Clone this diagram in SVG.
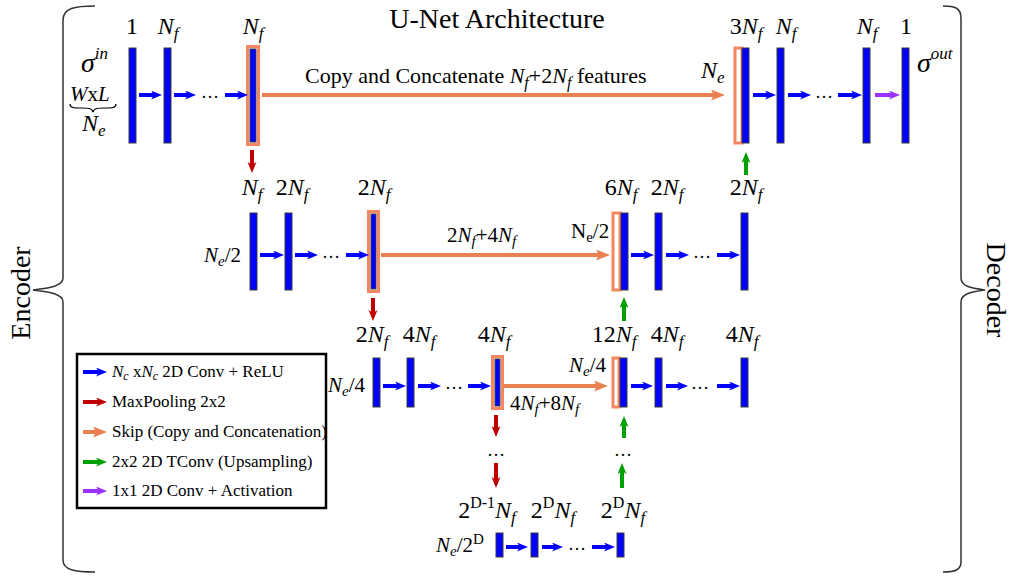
<svg xmlns="http://www.w3.org/2000/svg" width="1011" height="576" viewBox="0 0 1011 576">
<style>
.t{font-family:"Liberation Serif",serif;font-size:24px;fill:#000}
.it{font-style:italic}
.sb{font-size:17px;font-style:italic}
.bar{fill:#0000FF;stroke:#3a3a3a;stroke-width:1}
.hl{fill:none;stroke:#F4875F;stroke-width:3}
.hol{fill:#fff;stroke:#F4875F;stroke-width:3}
.brace{fill:none;stroke:#333;stroke-width:1.5}
.ab{stroke:#0000FF;stroke-width:4;marker-end:url(#mb)}
.ar{stroke:#C00000;stroke-width:4;marker-end:url(#mr)}
.ag{stroke:#00A000;stroke-width:4;marker-end:url(#mg)}
.ap{stroke:#9B30FF;stroke-width:4;marker-end:url(#mp)}
.ao{stroke:#E8804F;stroke-width:4;marker-end:url(#mo)}
.lg{font-family:"Liberation Serif",serif;font-size:17px}
</style>
<defs>
<marker id="mb" markerUnits="userSpaceOnUse" markerWidth="12" markerHeight="10" refX="3" refY="4.5" orient="auto"><path d="M0,0 L11,4.5 L0,9 L3,4.5 z" fill="#0000FF"/></marker>
<marker id="mr" markerUnits="userSpaceOnUse" markerWidth="12" markerHeight="10" refX="3" refY="4.5" orient="auto"><path d="M0,0 L11,4.5 L0,9 L3,4.5 z" fill="#C00000"/></marker>
<marker id="mg" markerUnits="userSpaceOnUse" markerWidth="12" markerHeight="10" refX="3" refY="4.5" orient="auto"><path d="M0,0 L11,4.5 L0,9 L3,4.5 z" fill="#00A000"/></marker>
<marker id="mp" markerUnits="userSpaceOnUse" markerWidth="12" markerHeight="10" refX="3" refY="4.5" orient="auto"><path d="M0,0 L11,4.5 L0,9 L3,4.5 z" fill="#9B30FF"/></marker>
<marker id="mo" markerUnits="userSpaceOnUse" markerWidth="15" markerHeight="12" refX="3" refY="5.5" orient="auto"><path d="M0,0 L14,5.5 L0,11 L3,5.5 z" fill="#E8804F"/></marker>
</defs>
<rect width="1011" height="576" fill="#fff"/>

<g id="braces">
<path class="brace" d="M95,6 C75,6 63,8 63,20 L63,278 C63,286 50,288 33,290 C50,292 63,294 63,302 L63,560 C63,570 75,572 95,572"/>
<path class="brace" d="M943,6 C955,6 961,8 961,18 L961,278 C961,286 970,288 985,290 C970,292 961,294 961,302 L961,562 C961,570 955,572 943,572"/>
<text class="t" style="font-size:28px" text-anchor="middle" transform="translate(30,293) rotate(-90)">Encoder</text>
<text class="t" style="font-size:28px" text-anchor="middle" transform="translate(987,290) rotate(90)">Decoder</text>
</g>

<text id="title" class="t" style="font-size:28px" x="497" y="28" text-anchor="middle">U-Net Architecture</text>

<g id="input-labels">
<text class="t" x="81" y="72"><tspan class="it" style="font-size:28px">σ</tspan><tspan class="it" style="font-size:17px" dy="-13">in</tspan></text>
<text class="t" x="70" y="101" style="font-size:21px"><tspan class="it">W</tspan>x<tspan class="it">L</tspan></text>
<path d="M70,104 C70,108 74,108 81,108 C88,108 92,108 93,112 C94,108 98,108 105,108 C112,108 116,108 116,104" fill="none" stroke="#000" stroke-width="1.2"/>
<text class="t" x="82" y="131"><tspan class="it">N</tspan><tspan class="sb" dy="5">e</tspan></text>
</g>

<g id="enc1">
<rect class="bar" x="129" y="48" width="7" height="95"/>
<rect class="bar" x="164" y="48" width="7" height="95"/>
<rect class="hl" x="247.5" y="46.5" width="11" height="98"/>
<rect class="bar" x="250" y="49" width="6" height="93"/>
<text class="t" x="132" y="34" text-anchor="middle">1</text>
<text class="t" x="168" y="34" text-anchor="middle"><tspan class="it">N</tspan><tspan class="sb" dy="5">f</tspan></text>
<text class="t" x="253" y="34" text-anchor="middle"><tspan class="it">N</tspan><tspan class="sb" dy="5">f</tspan></text>
<text class="t" x="210" y="98" text-anchor="middle" style="font-size:18px">…</text>
</g>

<g id="dec1">
<rect class="hol" x="735" y="48" width="7" height="95"/>
<rect class="bar" x="742" y="48" width="7" height="95"/>
<rect class="bar" x="777" y="48" width="7" height="95"/>
<rect class="bar" x="863" y="48" width="7" height="95"/>
<rect class="bar" x="902" y="48" width="7" height="95"/>
<text class="t" x="746" y="34" text-anchor="middle">3<tspan class="it">N</tspan><tspan class="sb" dy="5">f</tspan></text>
<text class="t" x="786" y="34" text-anchor="middle"><tspan class="it">N</tspan><tspan class="sb" dy="5">f</tspan></text>
<text class="t" x="867" y="34" text-anchor="middle"><tspan class="it">N</tspan><tspan class="sb" dy="5">f</tspan></text>
<text class="t" x="906" y="34" text-anchor="middle">1</text>
<text class="t" x="701" y="78"><tspan class="it">N</tspan><tspan class="sb" dy="5">e</tspan></text>
<text class="t" x="917" y="72"><tspan class="it" style="font-size:28px">σ</tspan><tspan class="it" style="font-size:17px" dy="-13">out</tspan></text>
<text class="t" x="824" y="98" text-anchor="middle" style="font-size:18px">…</text>
</g>

<g id="enc2">
<rect class="bar" x="250" y="213" width="7" height="77"/>
<rect class="bar" x="285" y="213" width="7" height="77"/>
<rect class="hl" x="368.5" y="211.5" width="10" height="80"/>
<rect class="bar" x="371" y="214" width="5" height="75"/>
<text class="t" x="252" y="195" text-anchor="middle"><tspan class="it">N</tspan><tspan class="sb" dy="5">f</tspan></text>
<text class="t" x="292" y="195" text-anchor="middle">2<tspan class="it">N</tspan><tspan class="sb" dy="5">f</tspan></text>
<text class="t" x="374" y="195" text-anchor="middle">2<tspan class="it">N</tspan><tspan class="sb" dy="5">f</tspan></text>
<text class="t" x="204" y="262" style="font-size:21px"><tspan class="it">N</tspan><tspan class="it" style="font-size:15px" dy="4">e</tspan><tspan dy="-4">/2</tspan></text>
<text class="t" x="331" y="258" text-anchor="middle" style="font-size:18px">…</text>
</g>

<g id="dec2">
<rect class="hol" x="613" y="213" width="7" height="77"/>
<rect class="bar" x="621" y="213" width="7" height="77"/>
<rect class="bar" x="655" y="213" width="7" height="77"/>
<rect class="bar" x="741" y="213" width="7" height="77"/>
<text class="t" x="621" y="195" text-anchor="middle">6<tspan class="it">N</tspan><tspan class="sb" dy="5">f</tspan></text>
<text class="t" x="667" y="195" text-anchor="middle">2<tspan class="it">N</tspan><tspan class="sb" dy="5">f</tspan></text>
<text class="t" x="746" y="195" text-anchor="middle">2<tspan class="it">N</tspan><tspan class="sb" dy="5">f</tspan></text>
<text class="t" x="571" y="238" style="font-size:21px">N<tspan style="font-size:15px" dy="4">e</tspan><tspan dy="-4">/2</tspan></text>
<text class="t" x="702" y="258" text-anchor="middle" style="font-size:18px">…</text>
</g>

<g id="enc3">
<rect class="bar" x="373" y="358" width="7" height="49"/>
<rect class="bar" x="407" y="358" width="7" height="49"/>
<rect class="hl" x="492.5" y="356.5" width="10" height="52"/>
<rect class="bar" x="495" y="359" width="5" height="47"/>
<text class="t" x="372" y="342" text-anchor="middle">2<tspan class="it">N</tspan><tspan class="sb" dy="5">f</tspan></text>
<text class="t" x="419" y="342" text-anchor="middle">4<tspan class="it">N</tspan><tspan class="sb" dy="5">f</tspan></text>
<text class="t" x="494" y="342" text-anchor="middle">4<tspan class="it">N</tspan><tspan class="sb" dy="5">f</tspan></text>
<text class="t" x="328" y="392" style="font-size:21px"><tspan class="it">N</tspan><tspan class="it" style="font-size:15px" dy="4">e</tspan><tspan dy="-4">/4</tspan></text>
<text class="t" x="454" y="389" text-anchor="middle" style="font-size:18px">…</text>
</g>

<g id="dec3">
<rect class="hol" x="613" y="358" width="6" height="49"/>
<rect class="bar" x="620" y="358" width="7" height="49"/>
<rect class="bar" x="655" y="358" width="7" height="49"/>
<rect class="bar" x="741" y="358" width="7" height="49"/>
<text class="t" x="614" y="342" text-anchor="middle">12<tspan class="it">N</tspan><tspan class="sb" dy="5">f</tspan></text>
<text class="t" x="667" y="342" text-anchor="middle">4<tspan class="it">N</tspan><tspan class="sb" dy="5">f</tspan></text>
<text class="t" x="742" y="342" text-anchor="middle">4<tspan class="it">N</tspan><tspan class="sb" dy="5">f</tspan></text>
<text class="t" x="569" y="372" style="font-size:21px"><tspan class="it">N</tspan><tspan class="it" style="font-size:15px" dy="4">e</tspan><tspan dy="-4">/4</tspan></text>
<text class="t" x="700" y="389" text-anchor="middle" style="font-size:18px">…</text>
</g>

<g id="bottom">
<rect class="bar" x="496" y="533" width="7" height="24"/>
<rect class="bar" x="531" y="533" width="7" height="24"/>
<rect class="bar" x="617" y="533" width="7" height="24"/>
<text class="t" x="487" y="518" text-anchor="middle">2<tspan style="font-size:16px" dy="-10">D-1</tspan><tspan class="it" dy="10">N</tspan><tspan class="sb" dy="5">f</tspan></text>
<text class="t" x="553" y="518" text-anchor="middle">2<tspan style="font-size:16px" dy="-10">D</tspan><tspan class="it" dy="10">N</tspan><tspan class="sb" dy="5">f</tspan></text>
<text class="t" x="623" y="518" text-anchor="middle">2<tspan style="font-size:16px" dy="-10">D</tspan><tspan class="it" dy="10">N</tspan><tspan class="sb" dy="5">f</tspan></text>
<text class="t" x="436" y="552" style="font-size:21px"><tspan class="it">N</tspan><tspan class="it" style="font-size:15px" dy="4">e</tspan><tspan dy="-4">/2</tspan><tspan style="font-size:15px" dy="-8">D</tspan></text>
<text class="t" x="577" y="550" text-anchor="middle" style="font-size:18px">…</text>
<text class="t" x="496" y="456" text-anchor="middle" style="font-size:18px">…</text>
<text class="t" x="623" y="456" text-anchor="middle" style="font-size:18px">…</text>
</g>

<g id="connectors">
<line class="ab" x1="139" y1="95" x2="154" y2="95"/>
<line class="ab" x1="174" y1="95" x2="188" y2="95"/>
<line class="ab" x1="225" y1="95" x2="240" y2="95"/>
<line class="ao" x1="262" y1="95" x2="714" y2="95"/>
<line class="ab" x1="753" y1="95" x2="768" y2="95"/>
<line class="ab" x1="788" y1="95" x2="803" y2="95"/>
<line class="ab" x1="838" y1="95" x2="854" y2="95"/>
<line class="ap" x1="875" y1="95" x2="892" y2="95"/>

<line class="ar" x1="252" y1="150" x2="252" y2="165"/>
<line class="ag" x1="746" y1="175" x2="746" y2="160"/>

<line class="ab" x1="260" y1="255" x2="276" y2="255"/>
<line class="ab" x1="295" y1="255" x2="310" y2="255"/>
<line class="ab" x1="346" y1="255" x2="361" y2="255"/>
<line class="ao" x1="381" y1="255" x2="599" y2="255"/>
<line class="ab" x1="631" y1="255" x2="646" y2="255"/>
<line class="ab" x1="666" y1="255" x2="681" y2="255"/>
<line class="ab" x1="717" y1="255" x2="732" y2="255"/>

<line class="ar" x1="373" y1="298" x2="373" y2="313"/>
<line class="ag" x1="624" y1="321" x2="624" y2="305"/>

<line class="ab" x1="383" y1="386" x2="398" y2="386"/>
<line class="ab" x1="418" y1="386" x2="433" y2="386"/>
<line class="ab" x1="468" y1="386" x2="483" y2="386"/>
<line class="ao" x1="503" y1="386" x2="597" y2="386"/>
<line class="ab" x1="631" y1="386" x2="645" y2="386"/>
<line class="ab" x1="666" y1="386" x2="680" y2="386"/>
<line class="ab" x1="717" y1="386" x2="732" y2="386"/>

<line class="ar" x1="496" y1="415" x2="496" y2="429"/>
<line class="ag" x1="624" y1="438" x2="624" y2="424"/>
<line class="ar" x1="496" y1="463" x2="496" y2="480"/>
<line class="ag" x1="622" y1="488" x2="622" y2="471"/>

<line class="ab" x1="506" y1="547" x2="520" y2="547"/>
<line class="ab" x1="542" y1="547" x2="555" y2="547"/>
<line class="ab" x1="592" y1="547" x2="607" y2="547"/>
</g>

<g id="skip-labels">
<text class="t" x="305" y="83" style="font-size:22px">Copy and Concatenate <tspan class="it">N</tspan><tspan class="it" style="font-size:16px" dy="5">f</tspan><tspan dy="-5">+2</tspan><tspan class="it">N</tspan><tspan class="it" style="font-size:16px" dy="5">f</tspan><tspan dy="-5"> features</tspan></text>
<text class="t" x="447" y="242" style="font-size:21px">2<tspan class="it">N</tspan><tspan class="it" style="font-size:15px" dy="4">f</tspan><tspan dy="-4">+4</tspan><tspan class="it">N</tspan><tspan class="it" style="font-size:15px" dy="4">f</tspan></text>
<text class="t" x="510" y="410" style="font-size:21px">4<tspan class="it">N</tspan><tspan class="it" style="font-size:15px" dy="4">f</tspan><tspan dy="-4">+8</tspan><tspan class="it">N</tspan><tspan class="it" style="font-size:15px" dy="4">f</tspan></text>
</g>

<g id="legend">
<rect x="77" y="354" width="249" height="154" fill="#fff" stroke="#000" stroke-width="2.5"/>
<line class="ab" x1="83" y1="372" x2="99" y2="372"/>
<line class="ar" x1="83" y1="402" x2="99" y2="402"/>
<line class="ao" x1="83" y1="432" x2="96" y2="432"/>
<line class="ag" x1="83" y1="462" x2="99" y2="462"/>
<line class="ap" x1="83" y1="491" x2="99" y2="491"/>
<text class="lg" x="112" y="377"><tspan class="it">N</tspan><tspan class="it" style="font-size:12px" dy="3">c</tspan><tspan dy="-3"> x</tspan><tspan class="it">N</tspan><tspan class="it" style="font-size:12px" dy="3">c</tspan><tspan dy="-3"> 2D Conv + ReLU</tspan></text>
<text class="lg" x="112" y="407">MaxPooling 2x2</text>
<text class="lg" x="112" y="437">Skip (Copy and Concatenation)</text>
<text class="lg" x="112" y="467">2x2 2D TConv (Upsampling)</text>
<text class="lg" x="112" y="496">1x1 2D Conv + Activation</text>
</g>
</svg>
